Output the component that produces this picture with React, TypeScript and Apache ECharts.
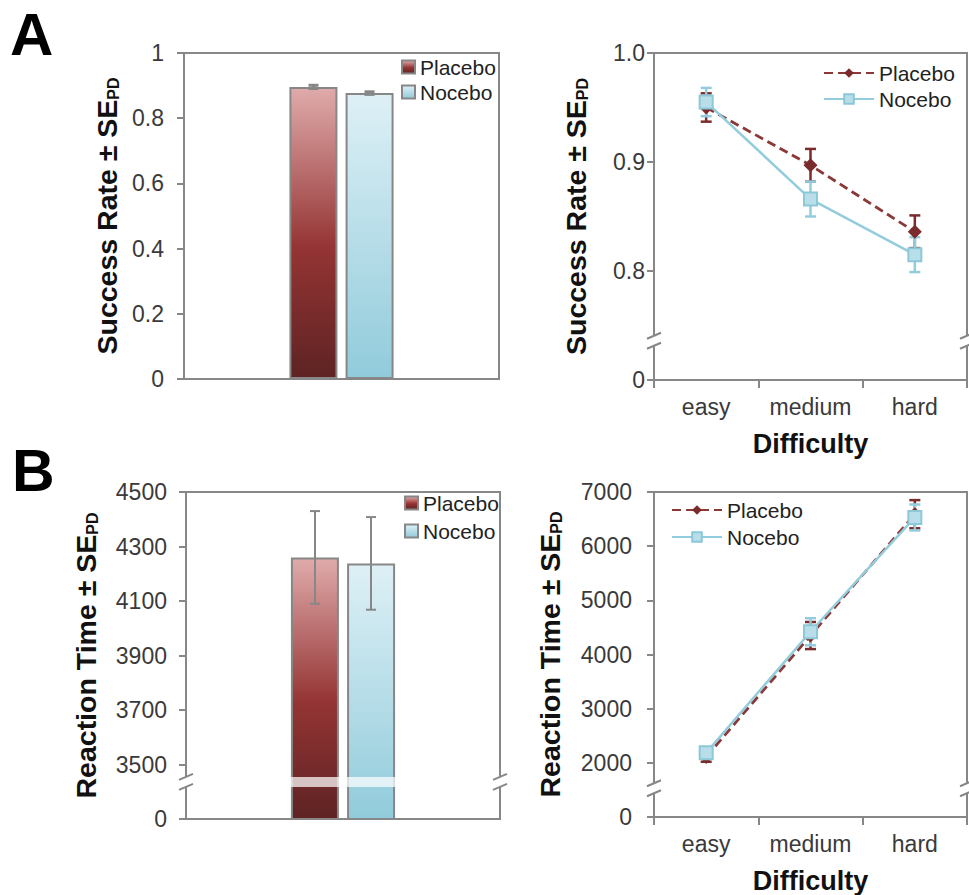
import React, { useEffect, useRef } from "react";
import * as echarts from "echarts";

// ---------- data ----------
const groups = ["Placebo", "Nocebo"];
const difficulty = ["easy", "medium", "hard"];

// Panel A (success rate)
const srOverall = [0.896, 0.877];
const srOverallErr = [0.005, 0.004];
const srPlacebo = [0.95, 0.897, 0.836];
const srPlaceboErr = [0.013, 0.015, 0.015];
const srNocebo = [0.955, 0.866, 0.815];
const srNoceboErr = [0.013, 0.016, 0.016];

// Panel B (reaction time)
const rtOverall = [4260, 4238];
const rtOverallErr = [170, 170];
const rtPlacebo = [2110, 4350, 6590];
const rtPlaceboErr = [90, 250, 260];
const rtNocebo = [2185, 4420, 6530];
const rtNoceboErr = [70, 250, 240];

// axis tick settings
const srBarTicks = { min: 0, max: 1, interval: 0.2 };
const srLineTicks = { min: 0.7, max: 1.0, interval: 0.1 };
const rtBarTicks = { min: 3300, max: 4500, interval: 200 };
const rtLineTicks = { min: 1000, max: 7000, interval: 1000 };

// axis-break positions (data units)
const srLineBreak = 0.736;
const rtBarBreak = 3436;
const rtLineBreak = 1530;

// ---------- styles ----------
const FONT = "'Liberation Sans', Arial, Helvetica, sans-serif";
const GRAY = "#878787";
const LABEL = "#3a3a3a";
const PL_DARK = "#7B2B2B";
const NO_LINE = "#93CDDD";

const grids = [
  { left: 184, top: 53, width: 315, height: 326 },
  { left: 654, top: 53, width: 313, height: 327 },
  { left: 186, top: 492, width: 314, height: 327 },
  { left: 654, top: 492, width: 313, height: 326 },
];

const BAR_W = 48;
const BAR_GAP = 8;
const BAR_OFF = (BAR_W + BAR_GAP) / 2;

const placeboGrad = new echarts.graphic.LinearGradient(0, 0, 0, 1, [
  { offset: 0, color: "#E0ABAB" },
  { offset: 0.55, color: "#953434" },
  { offset: 1, color: "#5E2323" },
]);
const noceboGrad = new echarts.graphic.LinearGradient(0, 0, 0, 1, [
  { offset: 0, color: "#DEF0F6" },
  { offset: 1, color: "#91CBDB" },
]);

function yName(text: string) {
  return {
    name: text + "{s|PD}",
    nameLocation: "middle",
    nameRotate: 90,
    nameTextStyle: {
      fontFamily: FONT,
      fontSize: 28.5,
      fontWeight: "bold",
      color: "#111",
      rich: {
        s: { fontFamily: FONT, fontSize: 16, fontWeight: "bold", color: "#111", verticalAlign: "bottom", padding: [8, 0, 0, 0] },
      },
    },
  };
}

function valueAxis(gridIndex: number, ticks: any, nameText: string, gap: number, margin: number, fmt: (v: number) => string) {
  return {
    type: "value",
    gridIndex,
    min: ticks.min,
    max: ticks.max,
    interval: ticks.interval,
    ...yName(nameText),
    nameGap: gap,
    axisLine: { show: true, lineStyle: { color: GRAY, width: 2 } },
    axisTick: { show: true, length: 7, lineStyle: { color: GRAY, width: 2 } },
    axisLabel: { fontFamily: FONT, fontSize: 23, color: LABEL, margin, formatter: fmt },
    splitLine: { show: false },
  };
}

function barXAxis(gridIndex: number) {
  return {
    type: "category",
    gridIndex,
    data: [""],
    axisLine: { show: true, lineStyle: { color: GRAY, width: 2 } },
    axisTick: { show: false },
    axisLabel: { show: false },
  };
}

function lineXAxis(gridIndex: number) {
  return {
    type: "category",
    gridIndex,
    data: difficulty,
    name: "Difficulty",
    nameLocation: "middle",
    nameGap: 50,
    nameTextStyle: { fontFamily: FONT, fontSize: 27, fontWeight: "bold", color: "#111" },
    axisLine: { show: true, lineStyle: { color: GRAY, width: 2 } },
    axisTick: { show: true, length: 8, interval: 0, lineStyle: { color: GRAY, width: 2 } },
    axisLabel: { fontFamily: FONT, fontSize: 23, color: LABEL, margin: 15, interval: 0, hideOverlap: false },
  };
}

function errRender(color: string, offset: number, cap: number, width: number) {
  return (params: any, api: any) => {
    const x = api.value(0);
    const y = api.value(1);
    const e = api.value(2);
    const hi = api.coord([x, y + e]);
    const lo = api.coord([x, y - e]);
    const cx = hi[0] + offset;
    const st = { stroke: color, lineWidth: width };
    return {
      type: "group",
      children: [
        { type: "line", shape: { x1: cx, y1: hi[1], x2: cx, y2: lo[1] }, style: st },
        { type: "line", shape: { x1: cx - cap / 2, y1: hi[1], x2: cx + cap / 2, y2: hi[1] }, style: st },
        { type: "line", shape: { x1: cx - cap / 2, y1: lo[1], x2: cx + cap / 2, y2: lo[1] }, style: st },
      ],
    };
  };
}

function errSeries(name: string, axisIdx: number, vals: number[], errs: number[], color: string, offset: number, cap: number, width: number, z: number) {
  return {
    type: "custom",
    name,
    xAxisIndex: axisIdx,
    yAxisIndex: axisIdx,
    renderItem: errRender(color, offset, cap, width),
    encode: { x: 0, y: 1 },
    data: vals.map((v, i) => [i, v, errs[i]]),
    z,
    silent: true,
  };
}

function barSeries(name: string, axisIdx: number, val: number, grad: any) {
  return {
    type: "bar",
    name,
    xAxisIndex: axisIdx,
    yAxisIndex: axisIdx,
    data: [val],
    barWidth: BAR_W,
    barGap: `${Math.round((BAR_GAP / BAR_W) * 100)}%`,
    itemStyle: { color: grad, borderColor: GRAY, borderWidth: 2 },
    z: 2,
  };
}

function placeboLine(name: string, axisIdx: number, vals: number[]) {
  return {
    type: "line",
    name,
    xAxisIndex: axisIdx,
    yAxisIndex: axisIdx,
    data: vals,
    symbol: "diamond",
    symbolSize: 14,
    lineStyle: { color: "#8A3838", width: 2.8, type: [9, 5] },
    itemStyle: { color: PL_DARK },
    z: 3,
  };
}

function noceboLine(name: string, axisIdx: number, vals: number[]) {
  return {
    type: "line",
    name,
    xAxisIndex: axisIdx,
    yAxisIndex: axisIdx,
    data: vals,
    symbol: "rect",
    symbolSize: 13,
    lineStyle: { color: NO_LINE, width: 2.5 },
    itemStyle: { color: "#B8DFE9", borderColor: "#8CC8D8", borderWidth: 2 },
    z: 4,
  };
}

function legend(idx: number, left: number, top: number, gap: number, isLine: boolean) {
  return {
    left,
    top,
    orient: "vertical",
    data: groups.map((g) => `${g}#${idx}`),
    formatter: (n: string) => n.split("#")[0],
    itemWidth: isLine ? 50 : 13,
    itemHeight: isLine ? 12 : 13,
    itemGap: gap,
    padding: 0,
    selectedMode: false,
    textStyle: { fontFamily: FONT, fontSize: 21, color: "#222", lineHeight: 22 },
    ...(isLine ? {} : { icon: "rect" }),
  };
}

const option: any = {
  animation: false,
  backgroundColor: "#fff",
  grid: grids.map((g) => ({ ...g, show: true, borderColor: GRAY, borderWidth: 2, backgroundColor: "transparent", containLabel: false })),
  xAxis: [barXAxis(0), lineXAxis(1), barXAxis(2), lineXAxis(3)],
  yAxis: [
    valueAxis(0, srBarTicks, "Success Rate ± SE", 63, 20, (v) => (v === 0 ? "0" : v === 1 ? "1" : v.toFixed(1))),
    valueAxis(1, srLineTicks, "Success Rate ± SE", 64, 9, (v) => (v < 0.75 ? "0" : v.toFixed(1))),
    valueAxis(2, rtBarTicks, "Reaction Time ± SE", 86, 19, (v) => (v < 3400 ? "0" : String(v))),
    valueAxis(3, rtLineTicks, "Reaction Time ± SE", 90, 22, (v) => (v <= 1000 ? "0" : String(v))),
  ],
  legend: [
    legend(0, 401, 56, 3, false),
    legend(1, 823, 62, 4, true),
    legend(2, 404, 492, 6, false),
    legend(3, 671, 499, 5, true),
  ],
  series: [
    // A left
    barSeries("Placebo#0", 0, srOverall[0], placeboGrad),
    barSeries("Nocebo#0", 0, srOverall[1], noceboGrad),
    errSeries("errP0", 0, [srOverall[0]], [srOverallErr[0]], GRAY, -BAR_OFF, 10, 3, 5),
    errSeries("errN0", 0, [srOverall[1]], [srOverallErr[1]], GRAY, BAR_OFF, 10, 3, 5),
    // A right
    errSeries("errP1", 1, srPlacebo, srPlaceboErr, PL_DARK, 0, 11, 2.5, 1),
    errSeries("errN1", 1, srNocebo, srNoceboErr, NO_LINE, 0, 11, 2.5, 1),
    placeboLine("Placebo#1", 1, srPlacebo),
    noceboLine("Nocebo#1", 1, srNocebo),
    // B left
    barSeries("Placebo#2", 2, rtOverall[0], placeboGrad),
    barSeries("Nocebo#2", 2, rtOverall[1], noceboGrad),
    errSeries("errP2", 2, [rtOverall[0]], [rtOverallErr[0]], GRAY, -BAR_OFF, 10, 2, 5),
    errSeries("errN2", 2, [rtOverall[1]], [rtOverallErr[1]], GRAY, BAR_OFF, 10, 2, 5),
    // B right
    errSeries("errP3", 3, rtPlacebo, rtPlaceboErr, PL_DARK, 0, 11, 2.5, 1),
    errSeries("errN3", 3, rtNocebo, rtNoceboErr, NO_LINE, 0, 11, 2.5, 1),
    placeboLine("Placebo#3", 3, rtPlacebo),
    noceboLine("Nocebo#3", 3, rtNocebo),
  ],
};

function breakMark(x: number, y: number) {
  const els: any[] = [
    { type: "rect", shape: { x: x - 3, y: y - 5, width: 6, height: 10 }, style: { fill: "#fff" }, z: 100 },
  ];
  [-5, 5].forEach((d) => {
    els.push({
      type: "line",
      shape: { x1: x - 7, y1: y + d + 3, x2: x + 7, y2: y + d - 3 },
      style: { stroke: GRAY, lineWidth: 2 },
      z: 101,
    });
  });
  return els;
}

export default function App() {
  const ref = useRef<HTMLDivElement>(null);
  useEffect(() => {
    if (!ref.current) return;
    const chart = echarts.init(ref.current, null, { renderer: "svg" });
    chart.setOption(option);

    const g: any[] = [
      { type: "text", left: 10, top: 4, style: { text: "A", fontFamily: FONT, fontSize: 60, fontWeight: "bold", fill: "#000" }, z: 100 },
      { type: "text", left: 12, top: 441, style: { text: "B", fontFamily: FONT, fontSize: 59, fontWeight: "bold", fill: "#000" }, z: 100 },
    ];
    const breaks: [number, number][] = [
      [1, srLineBreak],
      [2, rtBarBreak],
      [3, rtLineBreak],
    ];
    breaks.forEach(([gi, v]) => {
      const p = chart.convertToPixel({ gridIndex: gi } as any, [0, v]) as number[];
      const gr = grids[gi];
      g.push(...breakMark(gr.left, p[1]));
      g.push(...breakMark(gr.left + gr.width, p[1]));
      if (gi === 2) {
        const c = p[0];
        g.push({
          type: "rect",
          shape: { x: c - BAR_OFF - BAR_W / 2 - 1, y: p[1] - 5, width: 2 * (BAR_OFF + BAR_W / 2) + 2, height: 10 },
          style: { fill: "rgba(255,255,255,0.72)" },
          z: 100,
        });
      }
    });
    chart.setOption({ graphic: g });
    return () => chart.dispose();
  }, []);
  return <div ref={ref} style={{ position: "absolute", left: 0, top: 0, width: 969, height: 895 }} />;
}
